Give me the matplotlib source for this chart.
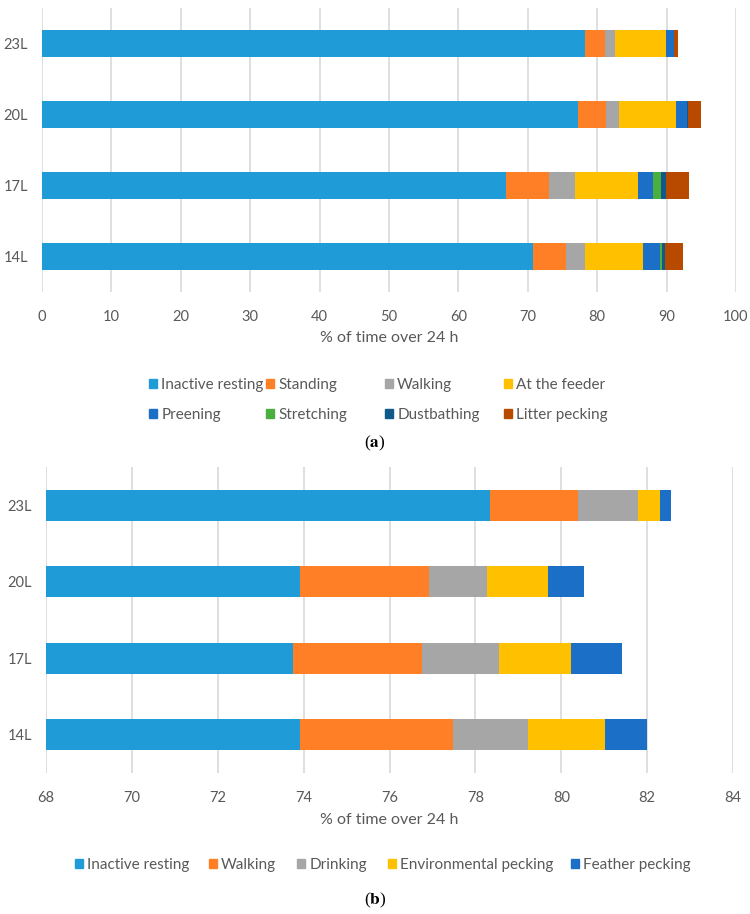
import matplotlib
matplotlib.use("Agg")
import matplotlib.pyplot as plt
import matplotlib.patches as mpatches
import numpy as np

plt.rcParams['font.family'] = ['Lato', 'DejaVu Sans']
plt.rcParams['mathtext.fontset'] = 'stix'

TXT = '#595959'
GRID = '#d9d9d9'

# ---- panel (a) data, rows bottom -> top ----
cats = ['14L', '17L', '20L', '23L']
a_labels = ['Inactive resting', 'Standing', 'Walking', 'At the feeder',
            'Preening', 'Stretching', 'Dustbathing', 'Litter pecking']
a_colors = ['#1f9bd8', '#ff7f27', '#a6a6a6', '#ffc000',
            '#1b6fc7', '#4aaf3f', '#0f5a8a', '#b84a00']
inactive_a = [70.8, 66.9, 77.3, 78.2]
standing_a = [4.7, 6.1, 3.9, 2.9]
walking_a = [2.8, 3.8, 1.9, 1.5]
feeder_a = [8.3, 9.1, 8.3, 7.3]
preening_a = [2.4, 2.2, 1.6, 1.1]
stretching_a = [0.3, 1.1, 0.0, 0.0]
dustbathing_a = [0.5, 0.7, 0.1, 0.1]
litter_a = [2.5, 3.3, 1.9, 0.5]

# ---- panel (b) data ----
b_labels = ['Inactive resting', 'Walking', 'Drinking',
            'Environmental pecking', 'Feather pecking']
b_colors = ['#1f9bd8', '#ff7f27', '#a6a6a6', '#ffc000', '#1b6fc7']
inactive_b = [73.91, 73.76, 73.91, 78.33]
walking_b = [3.58, 3.00, 3.01, 2.07]
drinking_b = [1.73, 1.78, 1.36, 1.38]
env_pecking_b = [1.81, 1.68, 1.40, 0.53]
feather_pecking_b = [0.97, 1.20, 0.86, 0.24]

W, H = 750, 914
fig = plt.figure(figsize=(W / 100, H / 100), dpi=100)


def fx(px):
    return px / W


def fy(py):
    return 1 - py / H


def stacked(ax, series, colors, height):
    y = np.arange(len(cats))
    left = np.zeros(len(cats))
    for vals, c in zip(series, colors):
        ax.barh(y, vals, left=left, height=height, color=c, zorder=2)
        left += np.array(vals)
    ax.set_yticks(y)
    ax.set_yticklabels(cats)
    ax.set_ylim(-0.5, len(cats) - 0.5)
    for s in ax.spines.values():
        s.set_visible(False)
    ax.grid(axis='x', color=GRID, linewidth=1.2, zorder=0)
    ax.tick_params(length=0, colors=TXT, labelsize=10.5)
    ax.tick_params(axis='x', pad=13)
    ax.tick_params(axis='y', pad=10)


def legend_at(labels, colors, x, y, spacing=1.05):
    handles = [mpatches.Patch(color=c) for c in colors]
    fig.legend(handles, labels, loc='upper left',
               bbox_to_anchor=(fx(x), fy(y)), frameon=False,
               borderpad=0, borderaxespad=0, handlelength=0.55,
               handleheight=0.55, handletextpad=0.25,
               labelspacing=spacing, fontsize=11, labelcolor=TXT)


# panel (a)
ax1 = fig.add_axes([fx(42), fy(292), fx(736) - fx(42), fy(8) - fy(292)])
stacked(ax1, [inactive_a, standing_a, walking_a, feeder_a, preening_a,
              stretching_a, dustbathing_a, litter_a], a_colors, 0.39)
ax1.set_xlim(0, 100)
ax1.set_xticks(np.arange(0, 101, 10))
fig.text(fx(389), fy(338), '% of time over 24 h', ha='center', va='center',
         color=TXT, fontsize=11.5)
for i, x in enumerate([149, 266, 385, 504]):
    legend_at([a_labels[i], a_labels[i + 4]],
              [a_colors[i], a_colors[i + 4]], x, 378)
fig.text(fx(375), fy(443), '(' + r'$\mathbf{a}$' + ')', ha='center',
         va='center', fontsize=12.5, family='Liberation Serif')

# panel (b)
ax2 = fig.add_axes([fx(46), fy(773), fx(733) - fx(46), fy(467) - fy(773)])
stacked(ax2, [inactive_b, walking_b, drinking_b, env_pecking_b,
              feather_pecking_b], b_colors, 0.4)
ax2.set_xlim(68, 84)
ax2.set_xticks(np.arange(68, 85, 2))
fig.text(fx(389), fy(820), '% of time over 24 h', ha='center', va='center',
         color=TXT, fontsize=11.5)
for lab, c, x in zip(b_labels, b_colors, [75, 209, 297, 388, 571]):
    legend_at([lab], [c], x, 858)
fig.text(fx(375), fy(900), '(' + r'$\mathbf{b}$' + ')', ha='center',
         va='center', fontsize=12.5, family='Liberation Serif')

fig.savefig('out.png', dpi=100, facecolor='white')
